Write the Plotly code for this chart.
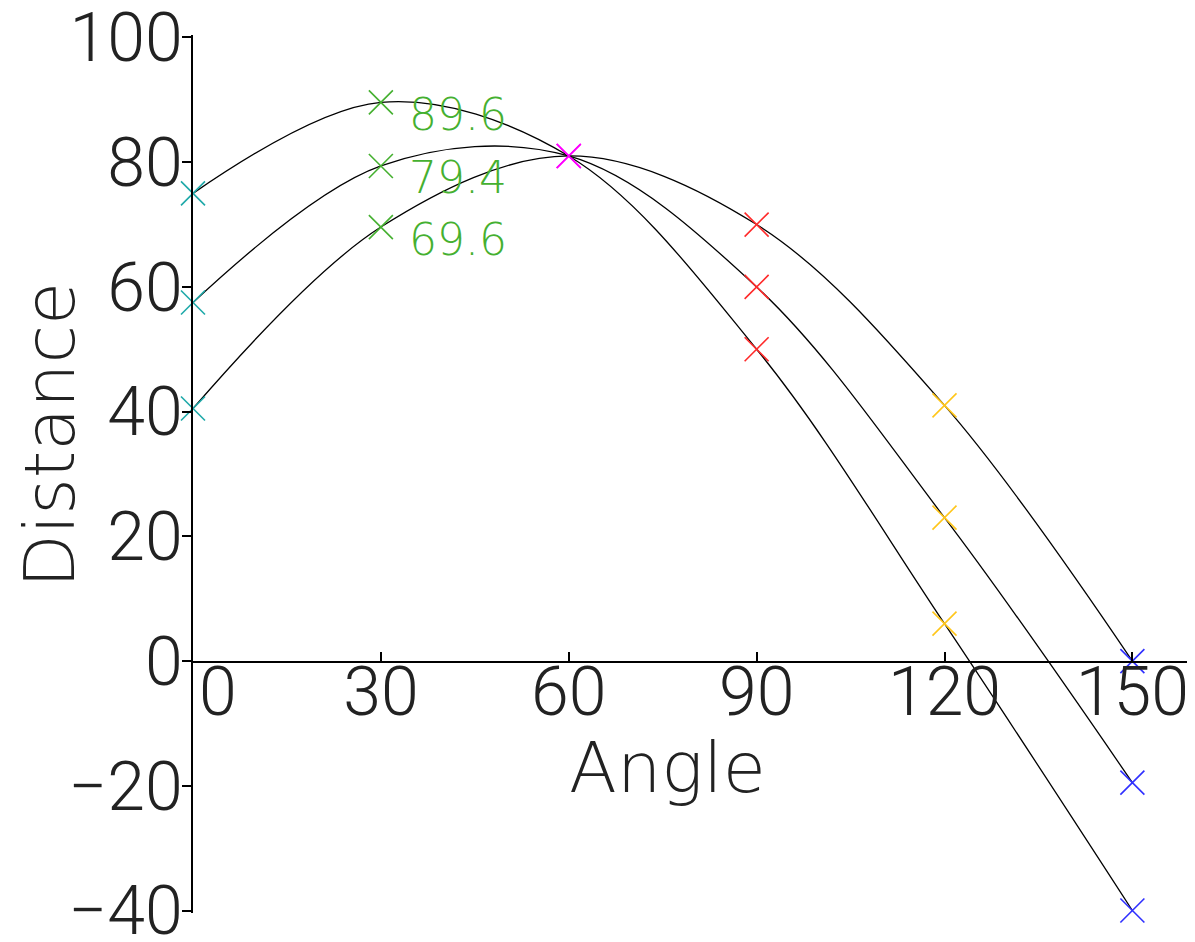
import plotly.graph_objects as go

angles = [0, 30, 60, 90, 120, 150]
dist_a = [75.0, 89.6, 81.0, 50.0, 6.0, -40.0]
dist_b = [57.5, 79.4, 81.0, 60.0, 23.0, -19.5]
dist_c = [40.5, 69.6, 81.0, 70.0, 41.0, 0.0]
marker_colors = ["#1fa9a9", "#45b030", "#ff00ff", "#ff2a2a", "#ffc61a", "#2f2fff"]
peak_labels = ["89.6", "79.4", "69.6"]

x_ticks = [0, 30, 60, 90, 120, 150]
x_ticktext = ["\u00a0\u00a0\u00a00", "30", "60", "90", "120", "150"]
y_ticks = [-40, -20, 0, 20, 40, 60, 80, 100]

fig = go.Figure()
for series in [dist_a, dist_b, dist_c]:
    fig.add_trace(go.Scatter(
        x=angles, y=series, mode="lines+markers",
        line=dict(color="black", width=1.3, shape="spline"),
        marker=dict(symbol="x-thin", size=24, color=marker_colors,
                    line=dict(width=1.6, color=marker_colors)),
        cliponaxis=False, showlegend=False,
    ))

# green value labels next to the 30-degree markers
for series, label in zip([dist_a, dist_b, dist_c], peak_labels):
    fig.add_annotation(x=angles[1], y=series[1], text=label, showarrow=False,
                       xanchor="left", yanchor="middle", xshift=26, yshift=-12,
                       font=dict(family="DejaVu Sans", size=44, weight=200, color="#45b030"))

title_font = dict(family="DejaVu Sans", size=70, weight=200, color="#222")
fig.add_annotation(xref="paper", yref="paper", x=-0.142, y=0.544, text="Distance",
                   textangle=-90, showarrow=False, xanchor="center", yanchor="middle",
                   font=title_font)
fig.add_annotation(xref="paper", yref="paper", x=0.474, y=0.165, text="Angle",
                   showarrow=False, xanchor="center", yanchor="middle", font=title_font)

tick_font = dict(family="Roboto", size=68, weight=300, color="#222")
fig.update_layout(
    width=1187, height=934,
    margin=dict(l=185, r=0, t=27, b=29),
    plot_bgcolor="white", paper_bgcolor="white",
    xaxis=dict(range=[0, 160], tickvals=x_ticks, ticktext=x_ticktext,
               showline=True, linecolor="black", linewidth=1.5,
               ticks="inside", ticklen=9, tickcolor="black", tickwidth=1.5,
               anchor="free", position=40 / 140, automargin=False,
               ticklabelstandoff=-29, ticklabeloverflow="allow",
               showgrid=False, zeroline=False, tickfont=tick_font),
    yaxis=dict(range=[-40.4, 100.4], tickvals=y_ticks,
               showline=True, linecolor="black", linewidth=1.5,
               ticks="outside", ticklen=9, tickcolor="black", tickwidth=1.5,
               automargin=False, ticklabelstandoff=-14, ticklabeloverflow="allow",
               showgrid=False, zeroline=False, tickfont=tick_font),
)

fig.write_html("out.html")
